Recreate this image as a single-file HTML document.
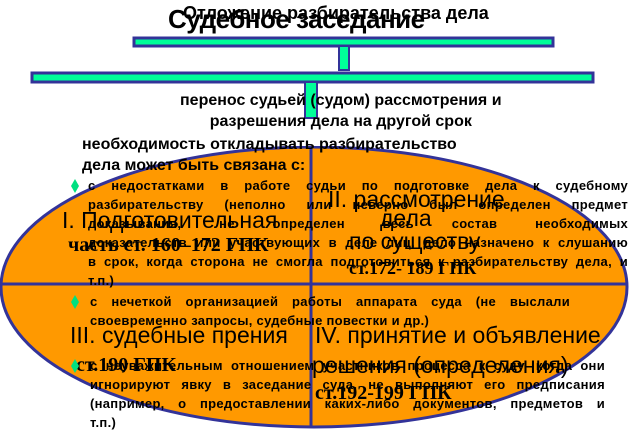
<!DOCTYPE html>
<html><head><meta charset="utf-8"><style>
body{margin:0;width:631px;height:431px;background:#fff;position:relative;overflow:hidden;font-family:"Liberation Sans",sans-serif}
.a{position:absolute;white-space:nowrap;color:#000}
.b{font-weight:bold;font-size:13px;letter-spacing:0.3px;line-height:19px;white-space:normal}
.b div{text-align:justify;text-align-last:justify}
.b div.l{text-align-last:left}
.big{font-size:23px;line-height:26px}
.ser{font-family:"Liberation Serif",serif;font-weight:bold;font-size:20px;line-height:22px}
.d{position:absolute;width:8px;height:14px;background:#00e080;clip-path:polygon(50% 0,100% 50%,50% 100%,0 50%)}
</style></head><body>
<svg class="a" style="left:0;top:0" width="631" height="431">
<ellipse cx="314" cy="287" rx="313" ry="140" fill="#ff9900" stroke="#333399" stroke-width="3"/>
<rect x="0" y="140" width="631" height="6" fill="#fff"/>
<line x1="311" y1="146" x2="311" y2="428" stroke="#333399" stroke-width="3"/>
<line x1="2" y1="284" x2="626" y2="284" stroke="#333399" stroke-width="3"/>
<rect x="134" y="38" width="419" height="8" fill="#00ff99" stroke="#333399" stroke-width="3"/>
<rect x="339" y="46" width="10" height="24" fill="#00ff99" stroke="#333399" stroke-width="2"/>
<rect x="32" y="73" width="561" height="9" fill="#00ff99" stroke="#333399" stroke-width="3"/>
<rect x="305" y="82" width="12" height="36" fill="#00ff99" stroke="#333399" stroke-width="2"/>
</svg>
<div class="a" style="left:168px;top:4px;font-weight:bold;font-size:26px;letter-spacing:-0.5px">Судебное заседание</div>
<div class="a" style="left:183px;top:3px;font-size:18px;font-weight:bold">Отложение разбирательства дела</div>
<div class="a" style="left:180px;top:90px;font-size:16px;font-weight:bold;line-height:21px;text-align:center">перенос судьей (судом) рассмотрения и<br>разрешения дела на другой срок</div>
<div class="a" style="left:82px;top:134px;font-size:16px;font-weight:bold;line-height:21px">необходимость откладывать разбирательство<br>дела может быть связана с:</div>
<div class="a big" style="left:62px;top:207px">I. Подготовительная</div>
<div class="a ser" style="left:68px;top:234px">часть ст. 160–172 ГПК</div>
<div class="a big" style="left:328px;top:186px">II. рассмотрение</div>
<div class="a big" style="left:380px;top:205px">дела</div>
<div class="a big" style="left:349px;top:228px">по существу</div>
<div class="a ser" style="left:349px;top:257px;font-size:18px">ст.172- 189 ГПК</div>
<div class="a big" style="left:70px;top:322px">III. судебные прения</div>
<div class="a ser" style="left:76px;top:354px">ст.190 ГПК</div>
<div class="a big" style="left:315px;top:322px">IV. принятие и объявление</div>
<div class="a big" style="left:312px;top:352px">решения (определения)</div>
<div class="a ser" style="left:315px;top:382px">ст.192-199 ГПК</div>
<div class="d" style="left:71px;top:179px"></div>
<div class="a b" style="left:88px;top:176px;width:540px">
<div>с недостатками в работе судьи по подготовке дела к судебному</div>
<div>разбирательству (неполно или неверно был определен предмет</div>
<div>доказывания, не определен весь состав необходимых</div>
<div>доказательств или участвующих в деле лиц, дело назначено к слушанию</div>
<div>в срок, когда сторона не смогла подготовиться к разбирательству дела, и</div>
<div class="l">т.п.)</div></div>
<div class="d" style="left:71px;top:295px"></div>
<div class="a b" style="left:90px;top:292px;width:480px">
<div>с нечеткой организацией работы аппарата суда (не выслали</div>
<div class="l">своевременно запросы, судебные повестки и др.)</div></div>
<div class="d" style="left:71px;top:359px"></div>
<div class="a b" style="left:90px;top:356px;width:515px">
<div>с неуважительным отношением участников процесса к суду, когда они</div>
<div>игнорируют явку в заседание суда, не выполняют его предписания</div>
<div>(например, о предоставлении каких-либо документов, предметов и</div>
<div class="l">т.п.)</div></div>
</body></html>
